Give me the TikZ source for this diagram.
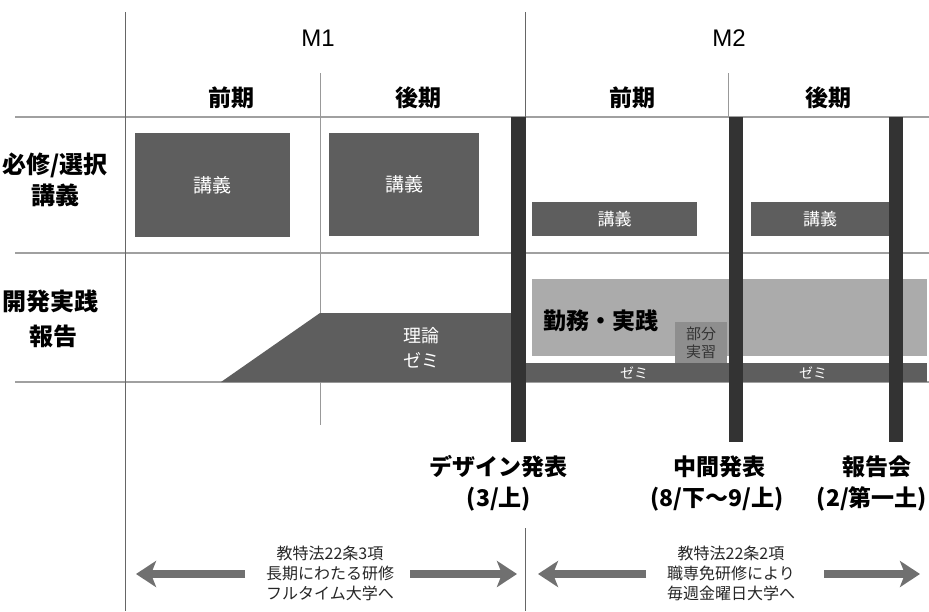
\documentclass[tikz,border=0pt]{standalone}
\usepackage{fontspec}
\setmainfont{Liberation Sans}
\newfontfamily\jp{Noto Sans CJK JP}
\usetikzlibrary{arrows.meta}
\definecolor{boxdark}{HTML}{5E5E5E}
\definecolor{barc}{HTML}{333333}
\definecolor{boxlight}{HTML}{ABABAB}
\definecolor{boxmid}{HTML}{8E8E8E}
\definecolor{gridl}{HTML}{A0A0A0}
\definecolor{arrowc}{HTML}{707070}
\tikzset{
  darkbox/.style={fill=boxdark, draw=none, inner sep=0pt, text=white, font=\jp\fontsize{19}{21}\selectfont},
  rowlabel/.style={font=\jp\bfseries\fontsize{24}{26}\selectfont, inner sep=0pt},
  headlabel/.style={font=\jp\bfseries\fontsize{23}{25}\selectfont, inner sep=0pt},
  mlabel/.style={font=\fontsize{24}{26}\selectfont, inner sep=0pt},
  eventlabel/.style={font=\jp\bfseries\fontsize{23}{25}\selectfont, inner sep=0pt},
  notelabel/.style={font=\jp\fontsize{16}{20}\selectfont, align=center, inner sep=0pt, text=black!85},
  milestone/.style={fill=barc, draw=none},
  bigarrow/.style={draw=arrowc, line width=8pt, -{Stealth[length=20pt,width=26pt,inset=5pt]}},
  gridline/.style={draw=gridl, line width=2pt},
  colline/.style={draw=black!60, line width=0.9pt},
  subline/.style={draw=black!40, line width=0.6pt}
}
\begin{document}
\begin{tikzpicture}[x=1pt,y=-1pt]
\useasboundingbox (0,0) rectangle (929,611);
\fill[white] (0,0) rectangle (929,611);

% grid
\draw[gridline] (15,117) -- (929,117);
\draw[gridline] (15,253) -- (929,253);
\draw[gridline] (15,382) -- (929,382);
\draw[colline] (125,12) -- (125,611);
\draw[colline] (525,12) -- (525,117);
\draw[colline] (525,528) -- (525,611);
\draw[subline] (320,73) -- (320,425);
\draw[subline] (728,73) -- (728,117);

% headers
\node[mlabel] (m1) at (318,38) {M1};
\node[mlabel] (m2) at (729,38) {M2};
\node[headlabel] (h1) at (231,98) {前期};
\node[headlabel] (h2) at (418,98) {後期};
\node[headlabel] (h3) at (632,98) {前期};
\node[headlabel] (h4) at (828,98) {後期};

% row labels
\node[rowlabel] (r1a) at (55,165) {必修/選択};
\node[rowlabel] (r1b) at (55,195) {講義};
\node[rowlabel] (r2a) at (50,301) {開発実践};
\node[rowlabel] (r2b) at (53,336) {報告};

% lecture boxes
\node[darkbox, minimum width=155pt, minimum height=104pt] (k1) at (212.5,185) {講義};
\node[darkbox, minimum width=150pt, minimum height=103pt] (k2) at (404,184.5) {講義};
\node[darkbox, minimum width=165pt, minimum height=34pt, font=\jp\fontsize{17}{19}\selectfont] (k3) at (614.5,219) {講義};
\node[darkbox, minimum width=138pt, minimum height=34pt, font=\jp\fontsize{17}{19}\selectfont] (k4) at (820,219) {講義};

% practice
\node[fill=boxlight, draw=none, inner sep=0pt, minimum width=395pt, minimum height=77pt] (work) at (729.5,317.5) {};
\node[font=\jp\bfseries\fontsize{23}{25}\selectfont, inner sep=0pt, anchor=west] (worktxt) at (543,321) {勤務・実践};
\node[fill=boxmid, draw=none, inner sep=0pt, minimum width=52pt, minimum height=41pt, align=center,
      font=\jp\fontsize{15}{18}\selectfont, text=black!80] (bubun) at (701,342.5) {部分\\実習};

% seminar
\fill[boxdark] (221,382) -- (320,313) -- (512,313) -- (512,382) -- cycle;
\node[font=\jp\fontsize{18}{25}\selectfont, text=white, align=center, inner sep=0pt] (riron) at (421,348) {理論\\ゼミ};
\node[fill=boxdark, draw=none, inner sep=0pt, minimum width=402pt, minimum height=19pt] (zemi) at (726,372.5) {};
\node[font=\jp\fontsize{14}{15}\selectfont, text=white!90, inner sep=0pt] (z1) at (634,373) {ゼミ};
\node[font=\jp\fontsize{14}{15}\selectfont, text=white!90, inner sep=0pt] (z2) at (813,373) {ゼミ};

% milestone bars
\fill[milestone] (511,117) rectangle (526,442);
\fill[milestone] (729,117) rectangle (743,442);
\fill[milestone] (889,117) rectangle (903,442);

% event labels
\node[eventlabel] (e1) at (498,467) {デザイン発表};
\node[eventlabel] (e1d) at (499,499) {(3/上)};
\node[eventlabel] (e2) at (719,467) {中間発表};
\node[eventlabel] (e2d) at (717,499) {(8/下～9/上)};
\node[eventlabel] (e3) at (877,467) {報告会};
\node[eventlabel] (e3d) at (872,499) {(2/第一土)};

% notes and arrows
\node[notelabel] (n1) at (330,573) {教特法22条3項\\長期にわたる研修\\フルタイム大学へ};
\node[notelabel] (n2) at (731,573) {教特法22条2項\\職専免研修により\\毎週金曜日大学へ};
\coordinate (a1s) at (245,574);
\coordinate (a1e) at (136,574);
\coordinate (a2s) at (410,574);
\coordinate (a2e) at (517,574);
\coordinate (a3s) at (646,574);
\coordinate (a3e) at (538,574);
\coordinate (a4s) at (824,574);
\coordinate (a4e) at (920,574);
\draw[bigarrow] (a1s) -- (a1e);
\draw[bigarrow] (a2s) -- (a2e);
\draw[bigarrow] (a3s) -- (a3e);
\draw[bigarrow] (a4s) -- (a4e);
\end{tikzpicture}
\end{document}
